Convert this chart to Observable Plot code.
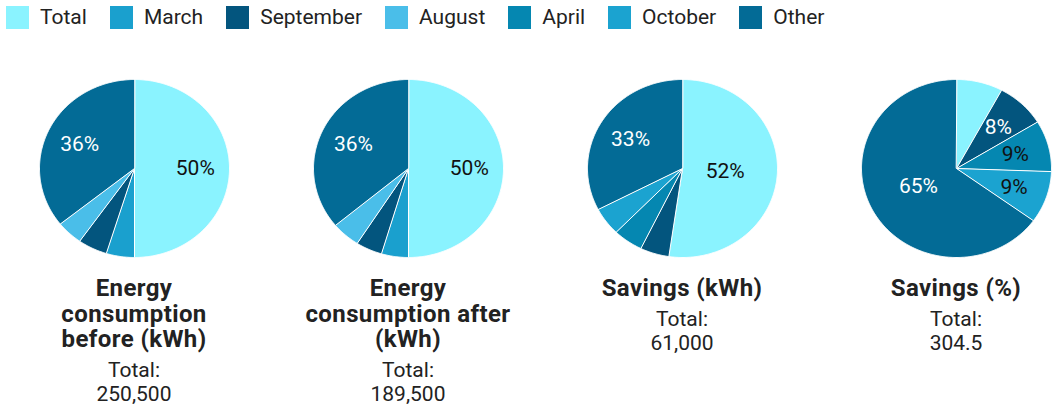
<!DOCTYPE html>
<html>
<head>
<meta charset="utf-8">
<script src="https://cdn.jsdelivr.net/npm/d3@7"></script>
<script src="https://cdn.jsdelivr.net/npm/@observablehq/plot@0.6"></script>
<style>
  html, body { margin: 0; padding: 0; background: #fff; width: 1056px; height: 409px; overflow: hidden; font-family: Roboto, "Noto Sans", sans-serif; color: #222; }
  #legend { position: absolute; left: 6px; top: 6px; display: flex; align-items: center; gap: 23px; font-size: 21px; line-height: 23px; }
  .item { display: flex; align-items: center; }
  .sw { width: 23px; height: 23px; margin-right: 11px; }
  #row { position: absolute; left: -3px; top: 73px; display: flex; }
  .col { width: 274px; display: flex; flex-direction: column; align-items: center; }
  .col svg { display: block; overflow: visible; }
  .title { margin-top: 13px; font-weight: 700; font-size: 24px; letter-spacing: 0.4px; line-height: 25.5px; text-align: center; white-space: nowrap; color: #222; }
  .sub { margin-top: 5px; font-size: 21px; line-height: 24.5px; text-align: center; color: #222; }
</style>
</head>
<body>
<div id="legend"></div>
<div id="row"></div>
<script>
// ---- data ----
const categories = ["Total", "March", "September", "August", "April", "October", "Other"];
const categoryColors = ["#8AF3FF", "#1AA0CE", "#03557E", "#4ABEE9", "#0587B1", "#1BA3D0", "#036B96"];
const darkCategories = ["September", "Other"];

const pieTitleLines = [
  ["Energy", "consumption", "before (kWh)"],
  ["Energy", "consumption after", "(kWh)"],
  ["Savings (kWh)"],
  ["Savings (%)"]
];
const pieTotalLabels = ["250,500", "189,500", "61,000", "304.5"];

const pie1Keys = ["Total", "March", "September", "August", "Other"];
const pie1Values = [125250, 12000, 12500, 11250, 89500];
const pie2Keys = ["Total", "March", "September", "August", "Other"];
const pie2Values = [94750, 8700, 8500, 9250, 68300];
const pie3Keys = ["Total", "September", "April", "October", "Other"];
const pie3Values = [31900, 3000, 3100, 3100, 19900];
const pie4Keys = ["Total", "September", "April", "October", "Other"];
const pie4Values = [24, 25.5, 28.3, 28.7, 198];

const pies = [
  {keys: pie1Keys, values: pie1Values},
  {keys: pie2Keys, values: pie2Values},
  {keys: pie3Keys, values: pie3Values},
  {keys: pie4Keys, values: pie4Values}
];

// ---- legend ----
const legend = document.getElementById("legend");
categories.forEach((c, i) => {
  const it = document.createElement("div");
  it.className = "item";
  const sw = document.createElement("div");
  sw.className = "sw";
  sw.style.background = categoryColors[i];
  const tx = document.createElement("span");
  tx.textContent = c;
  it.appendChild(sw); it.appendChild(tx);
  legend.appendChild(it);
});

// ---- pies ----
const row = document.getElementById("row");
pies.forEach((p, pi) => {
  const data = p.keys.map((k, i) => ({key: k, value: p.values[i]}));
  const total = d3.sum(data, d => d.value);
  const arcs = d3.pie().sort(null).value(d => d.value)(data);
  const pts = [];
  const labels = [];
  arcs.forEach(a => {
    const key = a.data.key;
    pts.push({key, x: 0, y: 0});
    const n = Math.max(2, Math.ceil((a.endAngle - a.startAngle) / 0.01));
    for (let j = 0; j <= n; j++) {
      const t = a.startAngle + (a.endAngle - a.startAngle) * j / n;
      pts.push({key, x: Math.sin(t), y: Math.cos(t)});
    }
    const pct = a.data.value / total * 100;
    if (pct >= 8) {
      const mid = (a.startAngle + a.endAngle) / 2;
      const r = (a.endAngle - a.startAngle) > Math.PI ? 0.45 : 0.64;
      labels.push({key, x: r * Math.sin(mid), y: r * Math.cos(mid), text: Math.round(pct) + "%", dark: darkCategories.includes(key)});
    }
  });

  const svg = Plot.plot({
    width: 274,
    height: 190,
    marginLeft: 42, marginRight: 42, marginTop: 6, marginBottom: 6,
    x: {domain: [-1, 1], axis: null},
    y: {domain: [-1, 1], axis: null},
    color: {domain: categories, range: categoryColors},
    style: {fontFamily: "Roboto, sans-serif", background: "transparent"},
    marks: [
      Plot.line(pts, {x: "x", y: "y", z: "key", fill: "key", stroke: "white", strokeWidth: 1, curve: "linear-closed"}),
      Plot.text(labels.filter(d => !d.dark), {x: "x", y: "y", text: "text", fill: "#111", fontSize: 21}),
      Plot.text(labels.filter(d => d.dark), {x: "x", y: "y", text: "text", fill: "white", fontSize: 21})
    ]
  });

  const col = document.createElement("div");
  col.className = "col";
  col.appendChild(svg);
  const title = document.createElement("div");
  title.className = "title";
  pieTitleLines[pi].forEach((ln, li) => {
    if (li > 0) title.appendChild(document.createElement("br"));
    title.appendChild(document.createTextNode(ln));
  });
  col.appendChild(title);
  const sub = document.createElement("div");
  sub.className = "sub";
  sub.appendChild(document.createTextNode("Total:"));
  sub.appendChild(document.createElement("br"));
  sub.appendChild(document.createTextNode(pieTotalLabels[pi]));
  col.appendChild(sub);
  row.appendChild(col);
});
</script>
</body>
</html>
